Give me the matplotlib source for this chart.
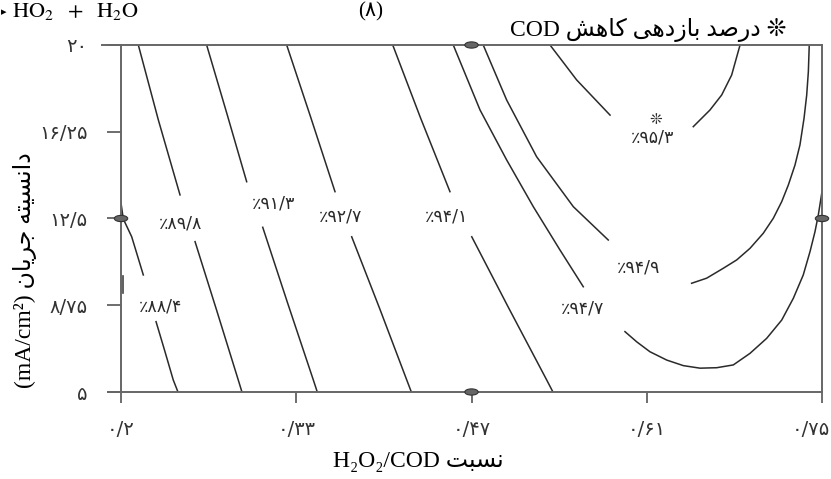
import numpy as np
import matplotlib
matplotlib.use("Agg")
import matplotlib.pyplot as plt
from matplotlib.patches import Ellipse
from matplotlib.transforms import ScaledTranslation

plt.rcParams['mathtext.fontset'] = 'stix'

# axis ranges and tick labels (persian decimal mark is "/")
x_range = [0.2, 0.75]
y_range = [5, 20]
x_tick_labels = ['0/2', '0/33', '0/47', '0/61', '0/75']
y_tick_labels = ['5', '8/75', '12/5', '16/25', '20']

# contour levels (COD removal %) and where their labels sit
levels = [88.4, 89.8, 91.3, 92.7, 94.1, 94.7, 94.9, 95.3]
label_x = [0.2311, 0.2468, 0.3200, 0.3724, 0.4555, 0.5621, 0.6064, 0.6169]
label_y = [8.69, 12.29, 13.13, 12.58, 12.58, 8.59, 10.39, 16.01]

# contour lines, each level split where the label cuts it
c88_4 = [([0.2000, 0.2018, 0.2084, 0.2175], [13.17, 12.48, 11.71, 10.06]),
         ([0.2275, 0.2341, 0.2410, 0.2447], [8.04, 6.82, 5.52, 5.00])]
c89_8 = [([0.2136, 0.2293, 0.2463], [20.0, 16.76, 13.52]),
         ([0.2581, 0.2750, 0.2920, 0.2949], [11.50, 8.54, 5.52, 5.00])]
c91_3 = [([0.2672, 0.2830, 0.2986], [20.0, 17.05, 14.09]),
         ([0.3112, 0.3310, 0.3509, 0.3540], [12.12, 8.80, 5.52, 5.00])]
c92_7 = [([0.3300, 0.3490, 0.3679], [20.0, 16.85, 13.66]),
         ([0.3810, 0.4030, 0.4242, 0.4278], [11.71, 8.60, 5.52, 5.00])]
c94_1 = [([0.4132, 0.4350, 0.4581], [20.0, 16.85, 13.66]),
         ([0.4752, 0.5040, 0.5340, 0.5389], [11.71, 8.65, 5.52, 5.00])]
c94_7 = [([0.4607, 0.4817, 0.5026, 0.5235, 0.5444, 0.5627],
          [20.0, 17.19, 15.03, 13.01, 11.14, 9.55]),
         ([0.5954, 0.6046, 0.6150, 0.6282, 0.6412, 0.6543, 0.6674, 0.6804, 0.6935,
           0.7066, 0.7184, 0.7275, 0.7353, 0.7406, 0.7445, 0.7471, 0.7500],
          [7.61, 7.17, 6.74, 6.38, 6.14, 6.03, 6.05, 6.17, 6.67,
           7.32, 8.11, 9.05, 10.06, 11.07, 11.93, 12.65, 13.66])]
c94_9 = [([0.4842, 0.5026, 0.5261, 0.5549, 0.5823], [20.0, 17.62, 15.17, 13.01, 11.57]),
         ([0.6477, 0.6595, 0.6726, 0.6831, 0.6935, 0.7039, 0.7118, 0.7184,
           0.7236, 0.7288, 0.7327, 0.7359, 0.7380, 0.7393, 0.7400],
          [9.70, 9.92, 10.35, 10.71, 11.21, 11.86, 12.51, 13.23,
           13.95, 14.81, 15.68, 16.83, 17.84, 18.85, 20.0])]
c95_3 = [([0.5366, 0.5470, 0.5575, 0.5706, 0.5837], [20.0, 19.25, 18.49, 17.73, 16.97]),
         ([0.6490, 0.6621, 0.6713, 0.6791, 0.6857], [16.47, 17.19, 17.84, 18.70, 20.0])]
contours = [c88_4, c89_8, c91_3, c92_7, c94_1, c94_7, c94_9, c95_3]

# design points on the frame
design_x = [0.475, 0.475, 0.2, 0.75]
design_y = [20, 5, 12.5, 12.5]

# optimum point (star) and the small stray mark near the left edge
opt_x, opt_y = 0.6197, 16.80
mark_x = [0.2016, 0.2016]
mark_y = [9.3, 10.0]


# persian letters -> presentation forms (isolated, final, initial, medial)
FORMS = {
    '\u0627': ('\uFE8D', '\uFE8E', None, None),
    '\u0628': ('\uFE8F', '\uFE90', '\uFE91', '\uFE92'),
    '\u062A': ('\uFE95', '\uFE96', '\uFE97', '\uFE98'),
    '\u062C': ('\uFE9D', '\uFE9E', '\uFE9F', '\uFEA0'),
    '\u062F': ('\uFEA9', '\uFEAA', None, None),
    '\u0631': ('\uFEAD', '\uFEAE', None, None),
    '\u0632': ('\uFEAF', '\uFEB0', None, None),
    '\u0633': ('\uFEB1', '\uFEB2', '\uFEB3', '\uFEB4'),
    '\u0634': ('\uFEB5', '\uFEB6', '\uFEB7', '\uFEB8'),
    '\u0635': ('\uFEB9', '\uFEBA', '\uFEBB', '\uFEBC'),
    '\u0646': ('\uFEE5', '\uFEE6', '\uFEE7', '\uFEE8'),
    '\u0647': ('\uFEE9', '\uFEEA', '\uFEEB', '\uFEEC'),
    '\u06CC': ('\uFBFC', '\uFBFD', '\uFBFE', '\uFBFF'),
    '\u06A9': ('\uFB8E', '\uFB8F', '\uFB90', '\uFB91'),
}


def fa(s):
    # matplotlib has no bidi / shaping, so do it by hand and reverse
    s = s.replace('\u064A', '\u06CC').replace('\u0643', '\u06A9')
    out = []
    for i, ch in enumerate(s):
        if ch not in FORMS:
            out.append(ch)
            continue
        prev = s[i - 1] if i > 0 else ''
        nxt = s[i + 1] if i + 1 < len(s) else ''
        f = FORMS[ch]
        jp = prev in FORMS and FORMS[prev][2] is not None
        jn = nxt in FORMS and f[2] is not None
        if jp and jn:
            out.append(f[3])
        elif jp:
            out.append(f[1])
        elif jn:
            out.append(f[2])
        else:
            out.append(f[0])
    return ''.join(reversed(out))


DIG = str.maketrans('0123456789', '\u06F0\u06F1\u06F2\u06F3\u06F4\u06F5\u06F6\u06F7\u06F8\u06F9')


def fnum(s):
    return s.translate(DIG)


SERIF = ['Liberation Serif', 'DejaVu Sans']
W, H = 831, 479

fig = plt.figure(figsize=(W / 100, H / 100), dpi=100)
ax = fig.add_axes([121 / W, 1 - 392 / H, 701 / W, 347 / H])
ax.set_xlim(x_range)
ax.set_ylim(y_range)

for lev, segs in zip(levels, contours):
    for xs, ys in segs:
        ax.plot(xs, ys, color='#2a2a2a', lw=1.1, solid_joinstyle='round')

for lev, lx, ly in zip(levels, label_x, label_y):
    ax.text(lx, ly, '\u066A' + fnum(('%.1f' % lev).replace('.', '/')),
            ha='center', va='center', fontsize=12.5, color='#2a2a2a',
            family='DejaVu Sans')

ax.text(opt_x, opt_y, '\u274A', ha='center', va='center', fontsize=11,
        color='#2a2a2a', family='DejaVu Sans')
ax.plot(mark_x, mark_y, color='#444', lw=1.2)

for dx, dy in zip(design_x, design_y):
    ax.add_patch(Ellipse((dx, dy), width=0.0105, height=0.27, facecolor='#666',
                         edgecolor='#333', lw=0.8, clip_on=False, zorder=5))

for sp in ax.spines.values():
    sp.set_color('#666')
    sp.set_linewidth(1.4)

ax.set_xticks(np.linspace(x_range[0], x_range[1], len(x_tick_labels)))
ax.set_xticklabels([fnum(t) for t in x_tick_labels])
ax.set_yticks(np.linspace(y_range[0], y_range[1], len(y_tick_labels)))
ax.set_yticklabels([fnum(t) for t in y_tick_labels])
ax.tick_params(axis='x', direction='out', length=8, width=1.2, color='#555',
               pad=12, labelsize=14, labelcolor='#333')
ax.tick_params(axis='y', direction='out', length=10, width=1.2, color='#555',
               pad=14, labelsize=14, labelcolor='#333')
for lab in ax.get_xticklabels() + ax.get_yticklabels():
    lab.set_family('DejaVu Sans')
# last x label sits against the figure edge
last = ax.get_xticklabels()[-1]
last.set_transform(last.get_transform() + ScaledTranslation(-11 / 100, 0, fig.dpi_scale_trans))

# top and bottom frame lines run a bit past the left spine
ax.plot([-19 / 701, 0], [1, 1], transform=ax.transAxes, clip_on=False, color='#666', lw=1.4)
ax.plot([-13 / 701, 0], [0, 0], transform=ax.transAxes, clip_on=False, color='#666', lw=1.4)

# texts around the chart (cut-off equation from the paper above)
fig.text(1 / W, 1 - 12 / H, '\u25B8', ha='left', va='center', fontsize=8,
         family='DejaVu Sans')
fig.text(12 / W, 1 - 12 / H, r'$\mathrm{HO_2\ \ +\ \ H_2O}$',
         ha='left', va='center', fontsize=16)
fig.text(371 / W, 1 - 12 / H, '(' + fnum('8') + ')', ha='center', va='center',
         fontsize=15, family=SERIF)
fig.text(648 / W, 1 - 30 / H, 'COD ' + fa('درصد بازدهی کاهش') + ' \u274A',
         ha='center', va='center', fontsize=17, family=SERIF)
fig.text(418 / W, 1 - 462 / H, 'H\u2082O\u2082/COD ' + fa('نسبت'),
         ha='center', va='center', fontsize=17, family=SERIF)
fig.text(25 / W, 1 - 270 / H, '(mA/cm\u00B2) ' + fa('دانسیته جریان'),
         ha='center', va='center', rotation=90, fontsize=17, family=SERIF)

fig.savefig('out.png', dpi=100)
